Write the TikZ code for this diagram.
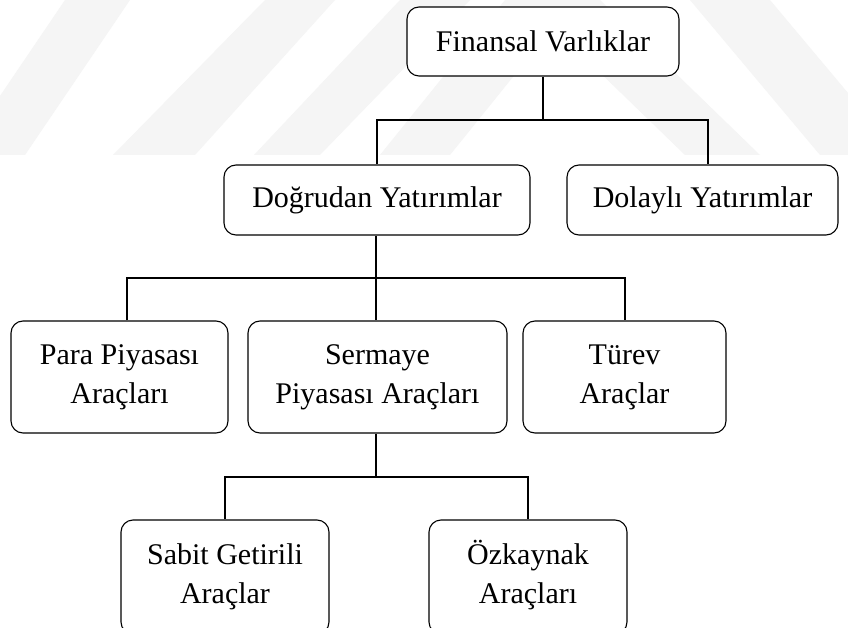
\documentclass[tikz,border=0pt]{standalone}
\usepackage{fontspec}
\setmainfont{Liberation Serif}
\tikzset{
  box/.style={draw=black, line width=1.1pt, rounded corners=12pt, fill=white,
    align=center, inner sep=0pt, font=\fontsize{30}{39}\selectfont},
  link/.style={draw=black, line width=1.3pt},
  wm/.style={fill=black!4, draw=none}
}
\begin{document}
\begin{tikzpicture}[x=1pt,y=-1pt]
\useasboundingbox (0,0) rectangle (848,628);
\fill[white] (0,0) rectangle (848,628);
% faint watermark bands
\begin{scope}
\clip (0,0) rectangle (848,628);
\fill[wm] (-40,155) -- (25,155) -- (130,0) -- (65,0) -- cycle;
\fill[wm] (113,155) -- (195,155) -- (335,0) -- (265,0) -- cycle;
\fill[wm] (254,155) -- (320,155) -- (470,0) -- (400,0) -- cycle;
\fill[wm] (380,155) -- (450,155) -- (575,0) -- (505,0) -- cycle;
\fill[wm] (525,0) -- (600,0) -- (760,155) -- (685,155) -- cycle;
\fill[wm] (690,0) -- (770,0) -- (900,155) -- (820,155) -- cycle;
\end{scope}

% nodes
\node[box, minimum width=272pt, minimum height=69pt] (fin) at (543,41.5) {Finansal Varlıklar};
\node[box, minimum width=306pt, minimum height=70pt] (dog) at (377,200) {Doğrudan Yatırımlar};
\node[box, minimum width=271pt, minimum height=70pt] (dol) at (702.5,200) {Dolaylı Yatırımlar};
\node[box, minimum width=217pt, minimum height=112pt] (para) at (119.5,377) {Para Piyasası\\Araçları};
\node[box, minimum width=259pt, minimum height=112pt] (ser) at (377.5,377) {Sermaye\\Piyasası Araçları};
\node[box, minimum width=203pt, minimum height=112pt] (tur) at (624.5,377) {Türev\\Araçlar};
\node[box, minimum width=208pt, minimum height=114pt] (sab) at (225,577) {Sabit Getirili\\Araçlar};
\node[box, minimum width=198pt, minimum height=114pt] (ozk) at (528,577) {\smash{Ö}zkaynak\\Araçları};

% junctions
\coordinate (j1) at (543,120);
\coordinate (j2) at (376,278);
\coordinate (j3) at (376,477);

% connectors
\draw[link] (fin.south) -- (j1);
\draw[link] (dog.north) |- (j1) -| ([xshift=5.5pt]dol.north);
\draw[link] ([xshift=-1pt]dog.south) -- (j2);
\draw[link] ([xshift=7.5pt]para.north) |- (j2) -| ([xshift=0.5pt]tur.north);
\draw[link] (j2) -- ([xshift=-1.5pt]ser.north);
\draw[link] ([xshift=-1.5pt]ser.south) -- (j3);
\draw[link] (sab.north) |- (j3) -| (ozk.north);
\end{tikzpicture}
\end{document}
